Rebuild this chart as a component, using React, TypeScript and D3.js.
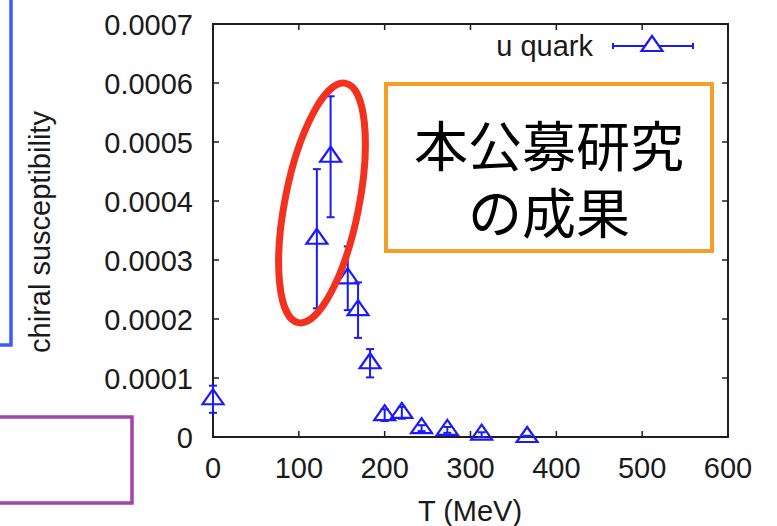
import React from "react";
import * as d3 from "d3";

const temps = [0, 121, 137, 157, 169, 183, 200, 220, 243, 273, 313, 366];
const chi = [6.4e-5, 3.36e-4, 4.75e-4, 2.69e-4, 2.15e-4, 1.25e-4, 0.37e-4, 0.41e-4, 0.15e-4, 0.12e-4, 0.04e-4, 0.0];
const errs = [2.3e-5, 1.18e-4, 1.025e-4, 0.54e-4, 0.47e-4, 0.24e-4, 0.1e-4, 0.1e-4, 0.05e-4, 0.05e-4, 0.04e-4, 0.02e-4];
const xTicks = [0, 100, 200, 300, 400, 500, 600];
const yTicks = [0, 0.0001, 0.0002, 0.0003, 0.0004, 0.0005, 0.0006, 0.0007];
const yTickLabels = ["0", "0.0001", "0.0002", "0.0003", "0.0004", "0.0005", "0.0006", "0.0007"];
const seriesName = "u quark";
const xTitle = "T (MeV)";
const yTitle = "chiral susceptibility";
const noteLines = ["本公募研究", "の成果"];

const W = 777;
const H = 526;
const FONT = "'Liberation Sans', Arial, Helvetica, sans-serif";
const BLUE = "#1a1aff";
const AX = "#1e1e1e";

function tri(cx: number, cy: number) {
  return `M${cx},${cy - 10} L${cx + 10.5},${cy + 5} L${cx - 10.5},${cy + 5} Z`;
}

export default function App() {
  const x = d3.scaleLinear().domain([0, 600]).range([213, 728]);
  const y = d3.scaleLinear().domain([0, 0.0007]).range([437, 24]);
  const [x0, x1] = x.range();
  const [y0, y1] = y.range();
  const tl = 6;

  return (
    <svg
      width={W}
      height={H}
      style={{ position: "absolute", left: 0, top: 0, background: "#fff" }}
      fontFamily={FONT}
    >
      <rect x={0} y={0} width={W} height={H} fill="#fff" />
      {/* decorative boxes */}
      <rect x={-10} y={-10} width={21} height={355} fill="none" stroke="#3a5cff" strokeWidth={3.5} />
      <rect x={-10} y={417} width={142} height={86} fill="none" stroke="#a443a8" strokeWidth={3.5} />

      {/* frame */}
      <rect x={x0} y={y1} width={x1 - x0} height={y0 - y1} fill="none" stroke={AX} strokeWidth={2} />
      {xTicks.map((t) => (
        <g key={"xt" + t}>
          <line x1={x(t)} x2={x(t)} y1={y0} y2={y0 - tl} stroke={AX} strokeWidth={1.5} />
          <line x1={x(t)} x2={x(t)} y1={y1} y2={y1 + tl} stroke={AX} strokeWidth={1.5} />
          <text x={x(t)} y={478} textAnchor="middle" fontSize={29} fill="#1a1a1a">
            {t}
          </text>
        </g>
      ))}
      {yTicks.map((t, i) => (
        <g key={"yt" + i}>
          <line x1={x0} x2={x0 + tl} y1={y(t)} y2={y(t)} stroke={AX} strokeWidth={1.5} />
          <line x1={x1} x2={x1 - tl} y1={y(t)} y2={y(t)} stroke={AX} strokeWidth={1.5} />
          <text x={193} y={y(t) + 10.5} textAnchor="end" fontSize={29} fill="#1a1a1a">
            {yTickLabels[i]}
          </text>
        </g>
      ))}
      <text x={470} y={521} textAnchor="middle" fontSize={29} fill="#1a1a1a">
        {xTitle}
      </text>
      <text
        transform={`translate(50,232) rotate(-90)`}
        textAnchor="middle"
        fontSize={29}
        fill="#1a1a1a"
      >
        {yTitle}
      </text>

      {/* orange note box */}
      <rect x={386} y={84} width={326} height={167} fill="#fff" stroke="#f4a028" strokeWidth={4} />
      <text
        x={549}
        y={167}
        textAnchor="middle"
        fontSize={54}
        fontFamily="'Noto Sans CJK JP', sans-serif"
        fill="#000"
      >
        <tspan x={549} y={167}>{noteLines[0]}</tspan>
        <tspan x={549} y={234}>{noteLines[1]}</tspan>
      </text>

      {/* data */}
      {temps.map((t, i) => {
        const cx = x(t);
        const cy = y(chi[i]);
        const top = y(chi[i] + errs[i]);
        const bot = y(Math.max(0, chi[i] - errs[i]));
        return (
          <g key={"p" + i} stroke={BLUE} fill="none" strokeWidth={2}>
            <line x1={cx} x2={cx} y1={top} y2={bot} />
            <line x1={cx - 4} x2={cx + 4} y1={top} y2={top} />
            <line x1={cx - 4} x2={cx + 4} y1={bot} y2={bot} />
            <path d={tri(cx, cy)} strokeWidth={2.2} />
          </g>
        );
      })}

      {/* legend */}
      <text x={593} y={56} textAnchor="end" fontSize={29} fill="#1a1a1a">
        {seriesName}
      </text>
      <g stroke={BLUE} fill="none" strokeWidth={2}>
        <line x1={613} x2={693} y1={46} y2={46} />
        <line x1={613} x2={613} y1={43} y2={49} />
        <line x1={693} x2={693} y1={43} y2={49} />
        <path d={tri(652, 46)} fill="#fff" strokeWidth={2.2} />
      </g>

      {/* red ellipse */}
      <ellipse
        cx={322}
        cy={203}
        rx={37}
        ry={122}
        transform="rotate(11.2 322 203)"
        fill="none"
        stroke="#f2321e"
        strokeWidth={7}
      />
    </svg>
  );
}
